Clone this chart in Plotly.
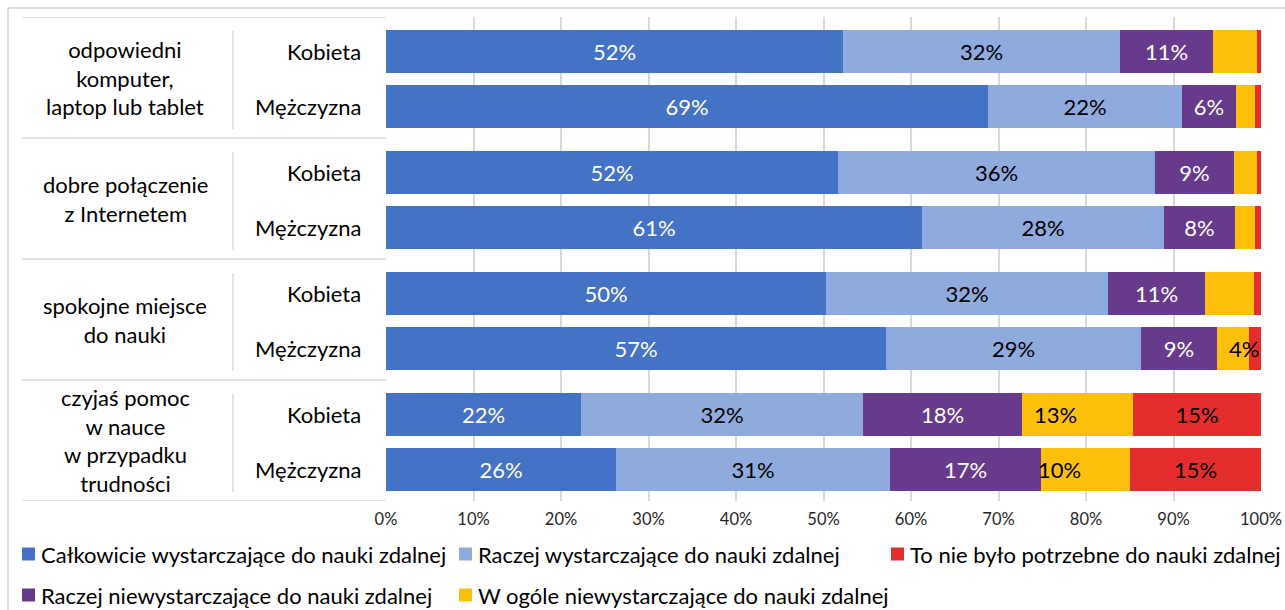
import plotly.graph_objects as go

# ---- data -------------------------------------------------------------
groups = [
    "odpowiedni<br>komputer,<br>laptop lub tablet",
    "dobre połączenie<br>z Internetem",
    "spokojne miejsce<br>do nauki",
    "czyjaś pomoc<br>w nauce<br>w przypadku<br>trudności",
]
sexes = ["Kobieta", "Mężczyzna"]

series_names = [
    "Całkowicie wystarczające do nauki zdalnej",
    "Raczej wystarczające do nauki zdalnej",
    "Raczej niewystarczające do nauki zdalnej",
    "W ogóle niewystarczające do nauki zdalnej",
    "To nie było potrzebne do nauki zdalnej",
]

# rows: (group, sex) in order K, M for each group
calkowicie = [52.2, 68.8, 51.7, 61.3, 50.3, 57.1, 22.3, 26.3]
raczej_wyst = [31.7, 22.2, 36.2, 27.6, 32.2, 29.2, 32.2, 31.3]
raczej_niewyst = [10.6, 6.1, 9.0, 8.1, 11.1, 8.7, 18.2, 17.3]
w_ogole_niewyst = [5.0, 2.2, 2.6, 2.3, 5.6, 3.6, 12.7, 10.1]
niepotrzebne = [0.5, 0.7, 0.5, 0.7, 0.8, 1.4, 14.6, 15.0]

# which segments carry a value label
show_label = [
    [True] * 8,
    [True] * 8,
    [True] * 8,
    [False, False, False, False, False, True, True, True],
    [False, False, False, False, False, False, True, True],
]

tick_vals = list(range(0, 101, 10))
tick_text = [f"{v}%" for v in tick_vals]

# ---- styling ----------------------------------------------------------
colors = ["#4472C4", "#8FAADC", "#673A8C", "#FCBF0A", "#E52D2D"]
label_colors = ["white", "black", "white", "black", "black"]
# horizontal nudges (px) for labels of the 4th series
label_nudge = [0, 0, 0, 0, 0, 11, -22, -26]

FONT = "Lato"
TXT = 22
W, H = 1285, 610
ML, MR, MT, MB = 386, 24, 17, 109
PW, PH = W - ML - MR, H - MT - MB
GROUP_H = 121          # y-units per group (1 unit = 1 px)
BAR_OFFS = [34, 89]    # bar centres inside a group
BAR_W = 43


def px_x(px):
    return (px - ML) / PW


def px_y(py):
    return 1 - (py - MT) / PH


ypos = [g * GROUP_H + off for g in range(len(groups)) for off in BAR_OFFS]

values = [calkowicie, raczej_wyst, raczej_niewyst, w_ogole_niewyst, niepotrzebne]

fig = go.Figure()
for s, (name, vals) in enumerate(zip(series_names, values)):
    texts = []
    for i, v in enumerate(vals):
        if show_label[s][i] and s != 3:
            texts.append(f"{round(v)}%")
        else:
            texts.append("")
    fig.add_trace(go.Bar(
        name=name, x=vals, y=ypos, orientation="h", width=BAR_W,
        marker=dict(color=colors[s], line=dict(width=0)),
        text=texts, textposition="inside", insidetextanchor="middle",
        textangle=0, constraintext="none",
        insidetextfont=dict(family=FONT, size=TXT, color=label_colors[s]),
        showlegend=False, hoverinfo="x+name",
    ))

annotations = []
shapes = []

# labels of the 4th series, placed at segment centres with a nudge
for i, v in enumerate(w_ogole_niewyst):
    if show_label[3][i]:
        start = calkowicie[i] + raczej_wyst[i] + raczej_niewyst[i]
        annotations.append(dict(
            x=start + v / 2, y=ypos[i], xref="x", yref="y", text=f"{round(v)}%",
            showarrow=False, xshift=label_nudge[i],
            font=dict(family=FONT, size=TXT, color=label_colors[3]),
        ))

line_col = "#D9D9D9"
# category table: separators between groups
for g in range(len(groups) + 1):
    y = g * GROUP_H
    shapes.append(dict(type="line", xref="paper", yref="y",
                       x0=px_x(22), x1=0, y0=y, y1=y,
                       line=dict(color=line_col, width=1.5)))
for g, label in enumerate(groups):
    y0 = g * GROUP_H
    shapes.append(dict(type="line", xref="paper", yref="y",
                       x0=px_x(233), x1=px_x(233), y0=y0 + 14, y1=y0 + 112,
                       line=dict(color=line_col, width=1.5)))
    annotations.append(dict(
        x=px_x(125), y=y0 + GROUP_H / 2, xref="paper", yref="y", text=label,
        showarrow=False, xanchor="center", yanchor="middle", align="center",
        font=dict(family=FONT, size=TXT, color="black"),
    ))
    for k, sex in enumerate(sexes):
        annotations.append(dict(
            x=px_x(363), y=y0 + BAR_OFFS[k], xref="paper", yref="y", text=sex,
            showarrow=False, xanchor="right", yanchor="middle",
            font=dict(family=FONT, size=TXT, color="black"),
        ))

# chart frame (top and left edges)
shapes.append(dict(type="line", xref="paper", yref="paper",
                   x0=px_x(8), x1=px_x(W), y0=px_y(8), y1=px_y(8),
                   line=dict(color="#D0D0D0", width=1.5)))
shapes.append(dict(type="line", xref="paper", yref="paper",
                   x0=px_x(8), x1=px_x(8), y0=px_y(8), y1=px_y(H),
                   line=dict(color="#D0D0D0", width=1.5)))

# legend
legend_layout = [  # (series index, marker x px, row y px)
    (0, 22, 554), (1, 459, 554), (4, 891, 554),
    (2, 22, 595), (3, 459, 595),
]
for s, mx, my in legend_layout:
    shapes.append(dict(type="rect", xref="paper", yref="paper",
                       x0=px_x(mx), x1=px_x(mx + 13),
                       y0=px_y(my - 6.5), y1=px_y(my + 6.5),
                       fillcolor=colors[s], line=dict(width=0)))
    annotations.append(dict(
        x=px_x(mx + 17), y=px_y(my), xref="paper", yref="paper",
        text=series_names[s], showarrow=False, xanchor="left", yanchor="middle",
        font=dict(family=FONT, size=TXT, color="black"),
    ))

fig.update_layout(
    barmode="stack",
    width=W, height=H, autosize=False,
    margin=dict(l=ML, r=MR, t=MT, b=MB, pad=0, autoexpand=False),
    paper_bgcolor="white", plot_bgcolor="white",
    font=dict(family=FONT, color="black"),
    xaxis=dict(range=[0, 100], tickvals=tick_vals, ticktext=tick_text,
               showgrid=True, gridcolor=line_col, gridwidth=1.5,
               zeroline=False, showline=False, ticks="",
               ticklabelstandoff=6, automargin=False,
               tickfont=dict(family=FONT, size=16.5, color="#262626"),
               fixedrange=True),
    yaxis=dict(range=[len(groups) * GROUP_H, 0], visible=False,
               automargin=False, fixedrange=True),
    shapes=shapes,
    annotations=annotations,
    bargap=0,
)

fig.write_html("out.html")
